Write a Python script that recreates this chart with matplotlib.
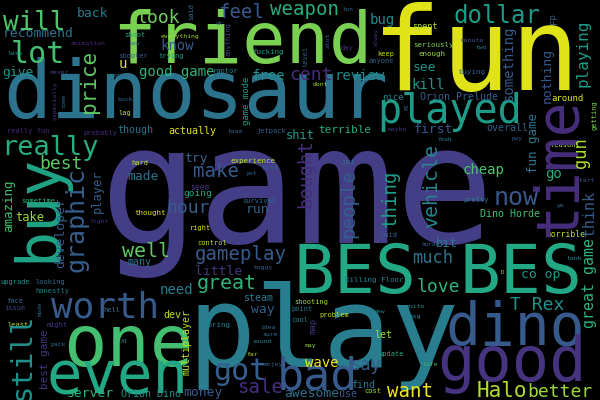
import matplotlib
matplotlib.use("Agg")
import matplotlib.pyplot as plt

# word weights (font height in px of the original cloud)
h_words = ["game", "dinosaur", "friend", "fun", "play", "BES", "BES", "dino", "good", "one",
           "even", "worth", "played", "bad", "got", "really", "lot", "will", "dollar", "look",
           "feel", "weapon", "cent", "now", "cheap", "gameplay", "well", "make", "hour", "great",
           "much", "love", "T Rex", "want", "Halo", "better", "say", "sale", "best", "first",
           "kill", "see", "go", "co op", "bit", "free", "review", "give", "good game", "back",
           "recommend", "know", "bug", "need", "little", "made", "try", "run", "way", "steam",
           "money", "awesome", "wave", "find", "use", "server", "Orion Dino", "Orion Prelude", "around", "overall",
           "Dino Horde", "take", "many", "though", "actually", "u", "terrible", "shit", "let", "dev",
           "nice", "shoot", "animation", "low", "everything", "less", "shooter", "trying", "never", "easy",
           "buck", "lag", "really fun", "probably", "spent", "minute", "two", "seriously", "enough", "buying",
           "maybe", "ton", "ok", "fucking", "day", "keep", "anyone", "raptor", "dont", "team",
           "jetpack", "pay", "reason", "start", "pretty", "ye", "horde", "horrible", "tank", "Yeah",
           "experience", "kind", "yet", "put", "paid", "seem", "going", "thought", "survival", "sometime",
           "fight", "hard", "right", "control", "buggy", "Killing Floor", "shooting", "point", "problem", "new",
           "cool", "idea", "sure", "sound", "may", "boring", "far", "enjoy", "update", "cost",
           "quite", "big", "life", "hell", "AI", "upgrade", "looking", "honestly", "face", "issue",
           "least", "might", "pack", "D"]
h_weight = [164, 80, 72, 115, 113, 68, 68, 58, 62, 72,
            59, 36, 40, 45, 30, 27, 30, 26, 24, 18,
            19, 19, 18, 25, 14, 19, 20, 19, 18, 20,
            17, 18, 18, 19, 21, 18, 17, 19, 18, 13,
            14, 13, 14, 13, 12, 14, 14, 13, 14, 13,
            13, 14, 14, 14, 13, 13, 13, 13, 13, 10,
            13, 13, 14, 10, 10, 13, 10, 10, 9, 10,
            10, 12, 10, 10, 10, 14, 11, 12, 10, 10,
            9, 7, 6.5, 6.5, 6.5, 6.5, 7, 7, 6.5, 6.5,
            6.5, 7, 7, 7, 8.5, 6.5, 6.5, 7.5, 7.5, 7.5,
            6.5, 6, 6, 7.5, 7, 7, 7, 7, 6.5, 6.5,
            7, 6, 7, 6.5, 7, 6.5, 6, 8, 6.5, 6,
            7.5, 7, 6.5, 7, 7, 8, 9.5, 7.5, 7, 7,
            6.5, 7, 7, 7, 6.5, 7.5, 7, 7, 7, 6.5,
            7, 6.5, 6.5, 6.5, 6.5, 7.5, 6.5, 6.5, 7, 7,
            6.5, 6.5, 6.5, 7, 6, 7, 7, 7, 7, 7,
            7, 7, 6.5, 5]

v_words = ["buy", "time", "still", "graphic", "price", "vehicle", "bought", "people", "thing", "gun",
           "playing", "think", "great game", "something", "nothing", "developer", "amazing", "fun game", "player", "best game",
           "multiplayer", "game mode", "FP", "map", "getting", "said", "anything", "level", "alot", "alway",
           "especially", "come", "PC", "mode"]
v_weight = [60, 58, 29, 25, 21, 20, 19, 19, 19, 17,
            16, 15, 15, 14, 13, 13, 12.5, 12.5, 12, 11,
            10, 9, 9, 9, 7, 7, 7, 7, 6.5, 6,
            6.5, 6, 6, 6]

# layout: horizontal words -> (centre x, baseline y); vertical words -> (baseline x, centre y)
h_x = [297, 196, 242, 476, 323, 355, 521, 515, 512, 128,
       118, 105, 450, 317, 240, 50, 38, 34, 497, 158,
       241, 305, 311, 516, 484, 241, 146, 216, 188, 227,
       433, 438, 537, 410, 502, 560, 366, 260, 61, 433,
       428, 424, 554, 541, 447, 268, 360, 18, 177, 92,
       38, 177, 382, 176, 219, 143, 196, 258, 263, 258,
       203, 312, 322, 363, 348, 90, 151, 459, 568, 507,
       510, 30, 140, 135, 192, 123, 345, 300, 383, 172,
       393, 135, 88, 134, 180, 15, 133, 171, 59, 120,
       125, 125, 28, 100, 425, 472, 481, 433, 432, 472,
       397, 348, 219, 268, 347, 386, 381, 225, 320, 235,
       271, 517, 563, 585, 476, 561, 430, 566, 574, 445,
       253, 270, 251, 349, 389, 200, 198, 150, 259, 38,
       99, 140, 200, 212, 263, 374, 311, 302, 334, 379,
       300, 268, 270, 262, 310, 217, 252, 273, 391, 373,
       415, 415, 430, 112, 125, 15, 50, 52, 15, 15,
       18, 57, 58, 502]
h_y = [243, 118, 63, 90, 367, 293, 293, 345, 381, 366,
       393, 317, 123, 390, 380, 155, 63, 30, 23, 23,
       18, 15, 80, 205, 174, 260, 257, 177, 213, 289,
       263, 292, 310, 397, 397, 397, 370, 393, 169, 133,
       89, 71, 178, 278, 247, 80, 80, 76, 76, 17,
       37, 50, 24, 294, 275, 180, 162, 213, 313, 301,
       396, 397, 367, 388, 397, 397, 397, 100, 101, 131,
       217, 221, 265, 133, 134, 68, 133, 139, 338, 318,
       100, 37, 45, 45, 38, 55, 58, 58, 74, 77,
       101, 115, 133, 135, 29, 42, 49, 47, 56, 74,
       131, 11, 25, 54, 50, 56, 63, 73, 86, 133,
       133, 140, 147, 182, 202, 207, 246, 237, 260, 141,
       163, 170, 175, 164, 237, 190, 196, 215, 203, 203,
       223, 165, 230, 245, 269, 282, 304, 311, 317, 313,
       322, 329, 336, 343, 347, 327, 356, 366, 356, 393,
       308, 318, 366, 312, 343, 284, 284, 293, 303, 310,
       327, 327, 346, 274]
h_shade = [0.18, 0.38, 0.80, 0.95, 0.42, 0.60, 0.60, 0.28, 0.15, 0.70,
           0.60, 0.28, 0.55, 0.28, 0.30, 0.62, 0.70, 0.72, 0.55, 0.78,
           0.27, 0.62, 0.13, 0.27, 0.72, 0.28, 0.75, 0.28, 0.28, 0.65,
           0.38, 0.65, 0.50, 0.98, 0.88, 0.85, 0.28, 0.13, 0.75, 0.27,
           0.50, 0.50, 0.62, 0.55, 0.40, 0.50, 0.48, 0.52, 0.65, 0.42,
           0.38, 0.27, 0.48, 0.42, 0.15, 0.38, 0.30, 0.30, 0.30, 0.40,
           0.27, 0.38, 0.98, 0.40, 0.27, 0.65, 0.50, 0.30, 0.95, 0.30,
           0.70, 0.85, 0.40, 0.38, 0.95, 0.95, 0.62, 0.55, 0.85, 0.90,
           0.45, 0.60, 0.12, 0.30, 0.85, 0.50, 0.27, 0.55, 0.20, 0.35,
           0.33, 0.90, 0.12, 0.12, 0.88, 0.25, 0.40, 0.80, 0.85, 0.30,
           0.15, 0.33, 0.30, 0.55, 0.12, 0.90, 0.33, 0.45, 0.85, 0.30,
           0.30, 0.30, 0.90, 0.25, 0.40, 0.35, 0.30, 0.90, 0.45, 0.40,
           0.90, 0.30, 0.30, 0.35, 0.30, 0.15, 0.60, 0.95, 0.35, 0.65,
           0.12, 0.90, 0.95, 0.90, 0.30, 0.45, 0.85, 0.40, 0.90, 0.45,
           0.45, 0.35, 0.35, 0.45, 0.85, 0.45, 0.90, 0.30, 0.60, 0.85,
           0.45, 0.45, 0.70, 0.35, 0.45, 0.50, 0.35, 0.45, 0.35, 0.20,
           0.90, 0.15, 0.35, 0.95]

v_x = [55, 575, 30, 83, 95, 437, 311, 354, 396, 586,
       587, 594, 594, 513, 551, 64, 12, 537, 101, 48,
       190, 249, 557, 316, 597, 193, 231, 308, 330, 378,
       57, 65, 408, 42]
v_y = [208, 167, 356, 220, 81, 186, 174, 203, 198, 153,
       53, 213, 283, 63, 75, 233, 206, 143, 191, 359,
       342, 101, 19, 326, 115, 12, 39, 56, 40, 37,
       101, 101, 106, 309]
v_shade = [0.58, 0.13, 0.50, 0.30, 0.75, 0.45, 0.13, 0.30, 0.55, 0.88,
           0.55, 0.30, 0.65, 0.28, 0.27, 0.30, 0.70, 0.40, 0.30, 0.15,
           0.90, 0.55, 0.30, 0.15, 0.80, 0.35, 0.20, 0.30, 0.30, 0.15,
           0.15, 0.35, 0.35, 0.35]

fig = plt.figure(figsize=(6, 4), dpi=100, facecolor="black")
ax = fig.add_axes([0, 0, 1, 1])
ax.set_facecolor("black")
ax.set_xlim(0, 600)
ax.set_ylim(400, 0)
ax.axis("off")

cmap = plt.cm.viridis
px_to_pt = 72 / 100

for w, s, x, y, c in zip(h_words, h_weight, h_x, h_y, h_shade):
    ax.text(x, y, w, fontsize=s * px_to_pt, family="DejaVu Sans Mono",
            color=cmap(c), ha="center", va="baseline")

for w, s, x, y, c in zip(v_words, v_weight, v_x, v_y, v_shade):
    ax.text(x, y, w, fontsize=s * px_to_pt, family="DejaVu Sans Mono",
            color=cmap(c), ha="center", va="baseline",
            rotation=90, rotation_mode="anchor")

fig.savefig("out.png", dpi=100, facecolor="black")
